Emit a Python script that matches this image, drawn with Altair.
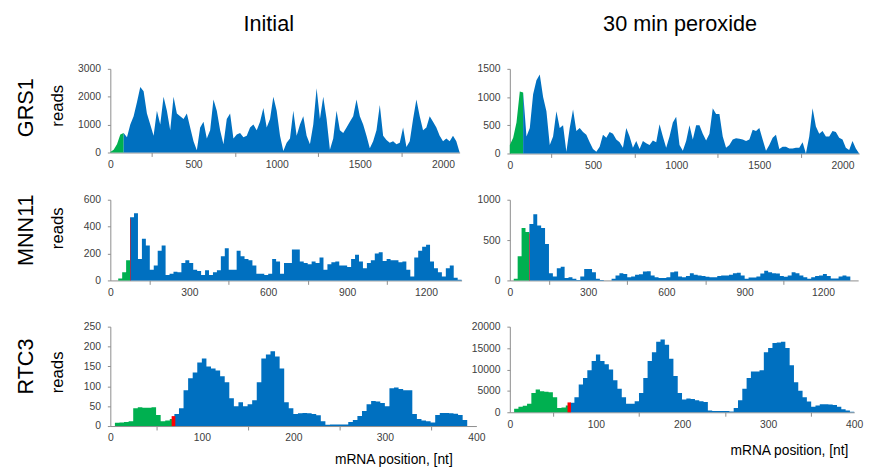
import altair as alt
import pandas as pd

# ---------------- data ----------------
GENES = ["GRS1", "MNN11", "RTC3"]
CONDITIONS = ["Initial", "30 min peroxide"]

# GRS1: reads every 20 nt, positions 0..2100
GRS1_STEP = 20
GRS1_INITIAL = [
    20, 100, 300, 650, 700, 550, 1000, 1300, 1800, 2350,
    2200, 1400, 1000, 600, 1500, 1000, 2000, 1500, 800, 2000,
    1400, 1300, 1200, 1400, 900, 400, 80, 900, 1100, 500,
    800, 1900, 1500, 800, 300, 1200, 1400, 500, 650, 700,
    550, 600, 900, 1000, 800, 1100, 1600, 900, 1200, 2000,
    1500, 600, 50, 350, 500, 1500, 600, 1000, 1300, 600,
    300, 1000, 2300, 1200, 2000, 1200, 100, 500, 1500, 800,
    700, 900, 1100, 1300, 1900, 1300, 1000, 600, 150, 400,
    800, 1700, 600, 450, 350, 400, 300, 350, 900, 200,
    400, 1200, 1900, 1300, 800, 900, 1300, 1100, 900, 600,
    400, 500, 400, 600, 400, 0,
]
GRS1_PEROXIDE = [
    150, 280, 550, 1100, 1080, 300, 450, 1050, 1300, 1400,
    1000, 750, 150, 300, 750, 450, 500, 30, 450, 780,
    400, 450, 380, 330, 200, 80, 30, 120, 330, 280,
    380, 350, 250, 200, 100, 450, 300, 100, 220, 80,
    220, 180, 150, 230, 200, 520, 300, 100, 300, 550,
    650, 150, 50, 220, 500, 250, 500, 500, 350, 230,
    350, 800, 700, 700, 300, 100, 150, 250, 270, 260,
    250, 220, 250, 420, 400, 450, 250, 50, 150, 280,
    330, 80, 120, 120, 90, 90, 100, 100, 200, 0,
    300, 800, 480, 350, 400, 300, 300, 400, 380, 280,
    250, 100, 60, 220, 90, 0,
]

# MNN11: reads every 15 nt, positions 0..1335
MNN11_STEP = 15
MNN11_INITIAL = [
    0, 0, 15, 60, 150, 470, 500, 160, 310, 260,
    80, 110, 220, 260, 40, 50, 65, 60, 130, 150,
    130, 80, 70, 40, 75, 40, 60, 75, 180, 240,
    80, 80, 220, 180, 160, 150, 110, 50, 50, 40,
    50, 160, 140, 50, 130, 130, 230, 230, 140, 130,
    120, 140, 130, 170, 80, 120, 135, 140, 110, 110,
    100, 160, 190, 140, 90, 130, 150, 200, 210, 145,
    160, 150, 150, 135, 140, 80, 30, 170, 220, 250,
    265, 140, 90, 60, 30, 90, 110, 20, 5, 0,
]
MNN11_PEROXIDE = [
    0, 20, 300, 650, 600, 700, 820, 680, 650, 450,
    90, 50, 150, 170, 30, 40, 20, 5, 50, 140,
    140, 100, 20, 5, 0, 0, 20, 60, 90, 80,
    40, 50, 70, 75, 110, 115, 60, 40, 30, 30,
    40, 100, 110, 50, 40, 55, 90, 70, 60, 55,
    45, 40, 40, 55, 60, 60, 70, 90, 95, 60,
    20, 35, 35, 50, 85, 120, 100, 90, 85, 55,
    45, 60, 100, 90, 60, 40, 20, 40, 55, 60,
    80, 55, 25, 25, 50, 60, 50, 0, 0, 0,
]

# RTC3: reads every 5 nt
RTC3_STEP = 5
RTC3_INITIAL = [
    0, 8, 9, 10, 12, 45, 47, 46, 46, 47,
    28, 12, 14, 18, 30, 45, 90, 120, 135, 160,
    170, 150, 145, 140, 125, 110, 70, 50, 60, 50,
    55, 65, 110, 170, 180, 188, 175, 145, 60, 45,
    30, 32, 33, 32, 30, 27, 12, 3, 4, 4,
    4, 4, 10, 15, 25, 38, 55, 63, 62, 58,
    50, 95, 97, 93, 90, 90, 30, 18, 14, 12,
    9, 28, 33, 33, 32, 31, 28, 15, 0,
]
RTC3_PEROXIDE = [
    0, 800, 1300, 1500, 2000, 4500, 5300, 4900, 4800, 4700,
    3500, 1000, 1100, 1600, 2200, 3500, 6500, 8000, 9800, 12000,
    13500, 12000, 11200, 10000, 7500, 5500, 3500, 2000, 2000, 2600,
    4500, 8000, 12000, 14000, 16500, 17000, 15800, 12500, 8500, 4500,
    3000, 3200, 3100, 2800, 2600, 2400, 400, 300, 300, 300,
    300, 200, 1000, 2800, 5500, 8000, 9500, 9500, 9800, 14000,
    15000, 16200, 16300, 16500, 15000, 11000, 7000, 5000, 3500, 2500,
    1300, 1600, 1900, 1900, 1800, 1700, 1300, 700, 400, 100,
    0,
]

# end of the green 5' leader (start of the blue coding region)
UTR_END = {"GRS1": 80, "MNN11": 75, "RTC3": 70}
# red start-codon marker: [start, end, height]
MNN11_MARK_INITIAL = [75, 77, 460]
MNN11_MARK_PEROXIDE = [75, 77, 580]
RTC3_MARK_INITIAL = [67, 71, 25]
RTC3_MARK_PEROXIDE = [67, 71, 2300]

# axis extents / ticks
X_MAX = {"GRS1": 2100, "MNN11": 1335, "RTC3": 400}
X_LABEL_EVERY = {"GRS1": 500, "MNN11": 300, "RTC3": 100}
Y_AXES = {
    ("GRS1", 0): (3000, 1000), ("GRS1", 1): (1500, 500),
    ("MNN11", 0): (600, 200), ("MNN11", 1): (1000, 500),
    ("RTC3", 0): (250, 50), ("RTC3", 1): (20000, 5000),
}

# ---------------- styling ----------------
BLUE = "#0070C0"
GREEN = "#00B050"
RED = "#FF0000"
AXIS_GRAY = "#8c8c8c"
FONT = "Liberation Sans"

SIZES = {
    ("GRS1", 0): (355, 85), ("GRS1", 1): (355, 86),
    ("MNN11", 0): (357, 82), ("MNN11", 1): (354, 82),
    ("RTC3", 0): (372, 101), ("RTC3", 1): (350, 87),
}
ROW_DY = {"GRS1": -3, "MNN11": -10, "RTC3": -10}
READS_DY = {"GRS1": -5, "MNN11": -12, "RTC3": -4}


def text_layer(text, x, y, size, angle=0, align="center", baseline="middle"):
    return alt.Chart(pd.DataFrame({"t": [text]})).mark_text(
        font=FONT, fontSize=size, angle=angle, align=align,
        baseline=baseline, color="#000000",
    ).encode(text="t:N", x=alt.value(x), y=alt.value(y))


def make_panel(gene, col, values, step, interp, marker):
    width, height = SIZES[(gene, col)]
    utr_end = UTR_END[gene]
    rows = []
    for i, v in enumerate(values):
        p = i * step
        if p <= utr_end:
            rows.append({"pos": float(p), "reads": float(v), "seg": "utr"})
        if p >= utr_end:
            rows.append({"pos": float(p), "reads": float(v), "seg": "cds"})
    df = pd.DataFrame(rows)

    xmax = X_MAX[gene]
    every = X_LABEL_EVERY[gene]
    half = every // 2
    xvals = list(range(0, xmax + 1, half))
    ymax, ystep = Y_AXES[(gene, col)]

    xs = alt.Scale(domain=[0, xmax], nice=False, zero=True)
    ys = alt.Scale(domain=[0, ymax], nice=False)
    xaxis = alt.Axis(
        values=xvals, title=None, format="d",
        labelExpr=f"datum.value % {every} === 0 ? datum.label : ''",
        tickColor={"condition": {"test": f"datum.value % {every} === 0",
                                 "value": "transparent"},
                   "value": AXIS_GRAY},
        tickSize=4, labelPadding=3, labelFlush=False, labelOverlap=False,
    )
    yaxis = alt.Axis(values=list(range(0, ymax + 1, ystep)), title=None,
                     format="d", tickSize=3, labelPadding=7)

    area = alt.Chart(df).mark_area(interpolate=interp).encode(
        x=alt.X("pos:Q", scale=xs, axis=xaxis),
        y=alt.Y("reads:Q", scale=ys, axis=yaxis, stack=None),
        color=alt.Color("seg:N", scale=alt.Scale(domain=["utr", "cds"],
                                                  range=[GREEN, BLUE]),
                        legend=None),
    )
    layers = [area]
    if marker is not None:
        mdf = pd.DataFrame({"x1": [float(marker[0])], "x2": [float(marker[1])],
                            "y0": [0.0], "y1": [float(marker[2])]})
        layers.append(alt.Chart(mdf).mark_rect(color=RED).encode(
            x=alt.X("x1:Q", scale=xs, axis=xaxis),
            x2="x2:Q",
            y=alt.Y("y0:Q", scale=ys, axis=yaxis),
            y2="y1:Q",
        ))
    if col == 0:
        layers.append(text_layer(gene, -86, height / 2 + ROW_DY[gene], 22, angle=270))
        layers.append(text_layer("reads", -53, height / 2 + READS_DY[gene], 17, angle=270))
    if gene == "GRS1":
        tx = 161 if col == 0 else 173
        layers.append(text_layer(CONDITIONS[col], tx, -38, 22, baseline="alphabetic"))
    if gene == "RTC3":
        mx = 348 if col == 0 else 344
        my = height + (39 if col == 0 else 43)
        layers.append(text_layer("mRNA position, [nt]", mx, my, 14,
                                 align="right", baseline="alphabetic"))
    return alt.layer(*layers).properties(width=width, height=height)


panels = [
    make_panel("GRS1", 0, GRS1_INITIAL, GRS1_STEP, "linear", None),
    make_panel("GRS1", 1, GRS1_PEROXIDE, GRS1_STEP, "linear", None),
    make_panel("MNN11", 0, MNN11_INITIAL, MNN11_STEP, "step-after", MNN11_MARK_INITIAL),
    make_panel("MNN11", 1, MNN11_PEROXIDE, MNN11_STEP, "step-after", MNN11_MARK_PEROXIDE),
    make_panel("RTC3", 0, RTC3_INITIAL, RTC3_STEP, "step-after", RTC3_MARK_INITIAL),
    make_panel("RTC3", 1, RTC3_PEROXIDE, RTC3_STEP, "step-after", RTC3_MARK_PEROXIDE),
]

chart = alt.concat(
    *panels, columns=2,
    spacing={"row": 47, "column": 34},
    bounds="flush",
    align={"row": "none", "column": "all"},
).configure_view(stroke=None).configure_axis(
    grid=False,
    domainColor=AXIS_GRAY,
    tickColor=AXIS_GRAY,
    labelFont=FONT,
    labelFontSize=10.5,
    labelColor="#404040",
).properties(padding={"left": 7, "top": 2, "right": 5, "bottom": 10})

chart.save("out.html", embed_options={"renderer": "svg", "actions": False})
